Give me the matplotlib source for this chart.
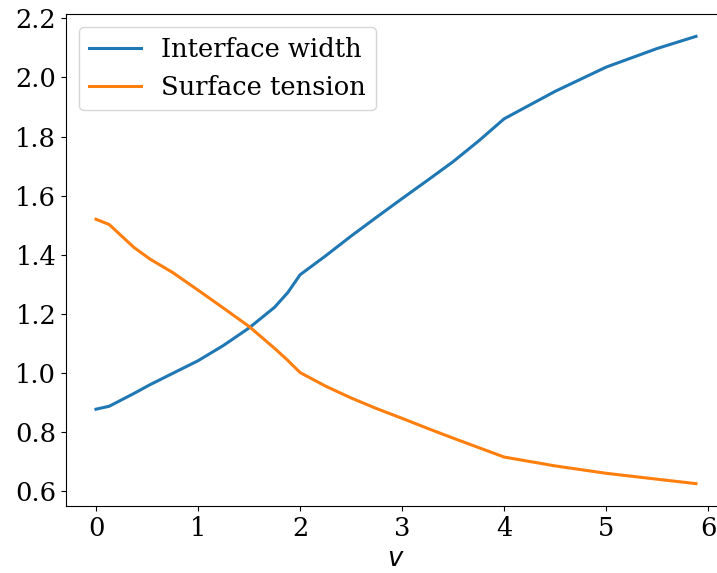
import matplotlib
matplotlib.use("Agg")
import matplotlib.pyplot as plt

plt.rcParams['font.family'] = ['DejaVu Serif']
plt.rcParams['font.size'] = 18.5

v_width = [0, 0.13, 0.37, 0.53, 0.75, 1.0, 1.25, 1.5, 1.75, 1.88, 2.0, 2.25, 2.5, 2.75,
           3.0, 3.25, 3.5, 3.75, 4.0, 4.5, 5.0, 5.5, 5.88]
interface_width = [0.877, 0.887, 0.930, 0.960, 0.998, 1.041, 1.093, 1.152, 1.222, 1.272,
                   1.332, 1.396, 1.463, 1.527, 1.590, 1.652, 1.715, 1.785, 1.860,
                   1.953, 2.035, 2.098, 2.139]
surface_tension = [1.520, 1.502, 1.425, 1.385, 1.340, 1.280, 1.219, 1.157, 1.083, 1.042,
                   1.001, 0.955, 0.915, 0.879, 0.846, 0.812, 0.779, 0.747, 0.715,
                   0.685, 0.660, 0.640, 0.625]
labels = ["Interface width", "Surface tension"]

fig = plt.figure(figsize=(7.17, 5.73), dpi=100)
ax = fig.add_axes([66/717, 1-506/573, (726-66)/717, (506-14)/573])
ax.plot(v_width, interface_width, color='#1f77b4', lw=2.2, label=labels[0])
ax.plot(v_width, surface_tension, color='#ff7f0e', lw=2.2, label=labels[1])
ax.set_xlabel('$v$')
ax.set_yticks([0.6, 0.8, 1.0, 1.2, 1.4, 1.6, 1.8, 2.0, 2.2])
ax.set_xticks([0, 1, 2, 3, 4, 5, 6])
ax.legend(loc='upper left')
fig.savefig('out.png', dpi=100)
